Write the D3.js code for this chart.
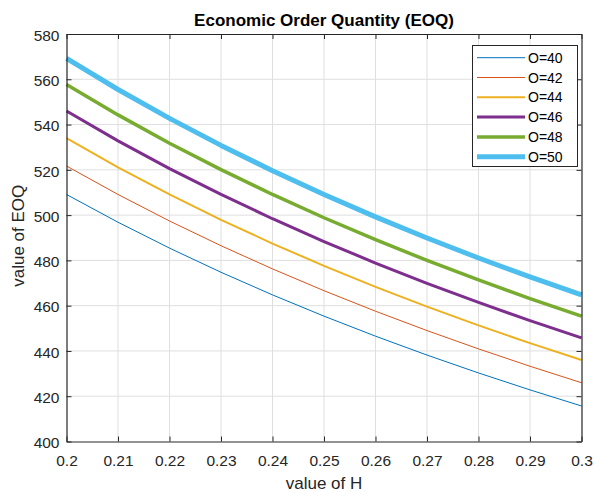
<!DOCTYPE html>
<html><head><meta charset="utf-8">
<script src="https://cdn.jsdelivr.net/npm/d3@7"></script>
<style>body{margin:0;background:#fff;}svg{display:block;font-family:"Liberation Sans",Arial,sans-serif;}</style>
</head><body><svg id="c" width="595" height="492"></svg>
<script>
const H = [0.20,0.21,0.22,0.23,0.24,0.25,0.26,0.27,0.28,0.29,0.30];
const seriesNames = ["O=40","O=42","O=44","O=46","O=48","O=50"];
const eoq40 = [509.12,496.85,485.42,474.75,464.76,455.37,446.52,438.18,430.28,422.80,415.69];
const eoq42 = [521.69,509.12,497.41,486.48,476.24,466.61,457.55,449.00,440.91,433.24,425.96];
const eoq44 = [533.97,521.10,509.12,497.93,487.44,477.59,468.32,459.56,451.28,443.44,435.98];
const eoq46 = [545.97,532.81,520.56,509.12,498.40,488.33,478.84,469.89,461.43,453.40,445.78];
const eoq48 = [557.71,544.27,531.76,520.07,509.12,498.83,489.14,480.00,471.35,463.15,455.37];
const eoq50 = [569.21,555.49,542.72,530.79,519.61,509.12,499.23,489.90,481.07,472.70,464.76];
const seriesValues = [eoq40,eoq42,eoq44,eoq46,eoq48,eoq50];
const xTicks = [0.2,0.21,0.22,0.23,0.24,0.25,0.26,0.27,0.28,0.29,0.3];
const xTickLabels = ["0.2","0.21","0.22","0.23","0.24","0.25","0.26","0.27","0.28","0.29","0.3"];
const yTicks = [400,420,440,460,480,500,520,540,560,580];
const colors = ["#0072BD","#D95319","#EDB120","#7E2F8E","#77AC30","#4DBEEE"];
const widths = [1,1,2,3,3.5,5];

const svg = d3.select("#c");
const L=66.5, R=581.5, T=34, B=441.5;
const x = d3.scaleLinear().domain([0.2,0.3]).range([L,R]);
const y = d3.scaleLinear().domain([400,580]).range([B,T]);
const axisCol = "#262626";

// grid
const g = svg.append("g");
g.selectAll(".gx").data(xTicks.slice(1,-1)).enter().append("line")
 .attr("x1",d=>x(d)).attr("x2",d=>x(d)).attr("y1",T).attr("y2",B)
 .attr("stroke","#dfdfdf").attr("stroke-width",1);
g.selectAll(".gy").data(yTicks.slice(1,-1)).enter().append("line")
 .attr("y1",d=>y(d)).attr("y2",d=>y(d)).attr("x1",L).attr("x2",R)
 .attr("stroke","#dfdfdf").attr("stroke-width",1);

// lines
const line = d3.line().x((d,i)=>x(H[i])).y(d=>y(d));
seriesValues.forEach((vals,k)=>{
  svg.append("path").datum(vals).attr("d",line).attr("fill","none")
   .attr("stroke",colors[k]).attr("stroke-width",widths[k]).attr("stroke-linejoin","round");
});

// axes
const fmtX = d=>xTickLabels[xTicks.findIndex(t=>Math.abs(t-d)<1e-9)];
const ax = svg.append("g").attr("transform",`translate(0,${B})`)
 .call(d3.axisBottom(x).tickValues(xTicks).tickFormat(fmtX).tickSizeInner(-5).tickSizeOuter(0).tickPadding(13));
const axT = svg.append("g").attr("transform",`translate(0,${T})`)
 .call(d3.axisTop(x).tickValues(xTicks).tickFormat("").tickSizeInner(-5).tickSizeOuter(0));
const ay = svg.append("g").attr("transform",`translate(${L},0)`)
 .call(d3.axisLeft(y).tickValues(yTicks).tickSizeInner(-5).tickSizeOuter(0).tickPadding(7));
const ayR = svg.append("g").attr("transform",`translate(${R},0)`)
 .call(d3.axisRight(y).tickValues(yTicks).tickFormat("").tickSizeInner(-5).tickSizeOuter(0));
[ax,axT,ay,ayR].forEach(a=>{
  a.select(".domain").attr("stroke",axisCol).attr("stroke-width",1.2);
  a.selectAll(".tick line").attr("stroke",axisCol);
  a.selectAll(".tick text").attr("fill",axisCol).style("font-size","15.5px").style("font-family","'Liberation Sans',Arial,sans-serif");
});
ay.selectAll(".tick text").attr("dy","0.4em");

// labels
svg.append("text").attr("x",(L+R)/2).attr("y",26).attr("text-anchor","middle")
 .style("font-size","17px").style("font-weight","bold").attr("fill","#000").text("Economic Order Quantity (EOQ)");
svg.append("text").attr("x",(L+R)/2).attr("y",489).attr("text-anchor","middle")
 .style("font-size","17px").attr("fill",axisCol).text("value of H");
svg.append("text").attr("transform",`translate(24,${(T+B)/2 - 2}) rotate(-90)`).attr("text-anchor","middle")
 .style("font-size","17px").attr("fill",axisCol).text("value of EOQ");

// legend
const lg = svg.append("g");
lg.append("rect").attr("x",472.5).attr("y",45.5).attr("width",105).attr("height",121)
 .attr("fill","#fff").attr("stroke",axisCol).attr("stroke-width",1);
seriesNames.forEach((n,k)=>{
  const yy = 57.7 + k*19.8;
  lg.append("line").attr("x1",477).attr("x2",525).attr("y1",yy).attr("y2",yy)
   .attr("stroke",colors[k]).attr("stroke-width",widths[k]);
  lg.append("text").attr("x",528).attr("y",yy+5).style("font-size","14px").attr("fill","#000").text(n);
});
</script></body></html>
